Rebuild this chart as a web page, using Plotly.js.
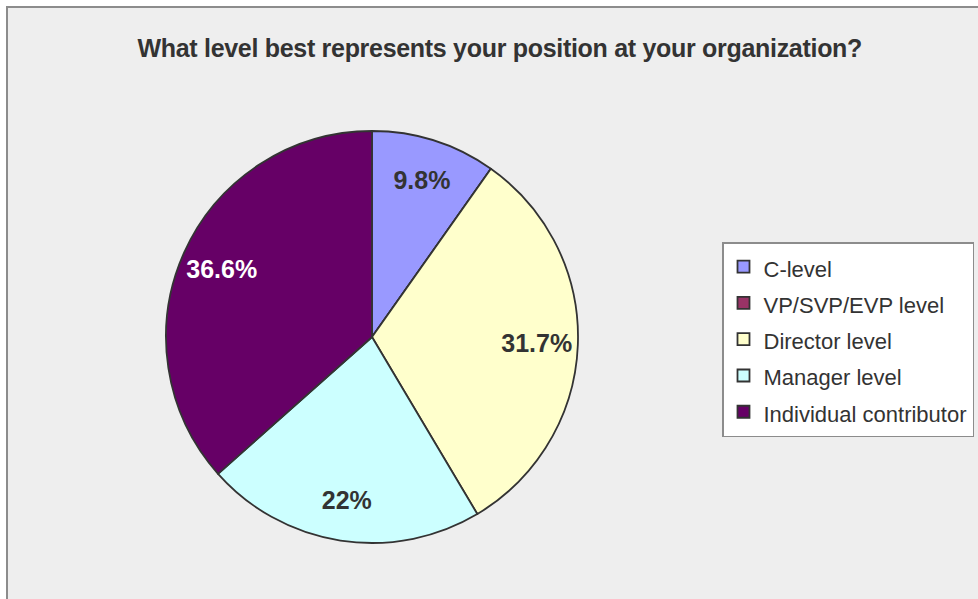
<!DOCTYPE html>
<html>
<head>
<meta charset="utf-8">
<script src="https://cdn.plot.ly/plotly-3.0.1.min.js"></script>
<style>html,body{margin:0;padding:0;background:#fff;}#chart{width:978px;height:599px;}
.gtitle{letter-spacing:-0.3px;}</style>
</head>
<body>
<div id="chart"></div>
<script>
const categories = ["C-level", "VP/SVP/EVP level", "Director level", "Manager level", "Individual contributor"];
const shares = [9.8, 0, 31.7, 22, 36.6];
const sliceColors = ["#9999ff", "#993366", "#ffffcc", "#ccffff", "#660066"];
const labelColors = ["#333333", "#333333", "#333333", "#333333", "#ffffff"];
const chartTitle = "What level best represents your position at your organization?";

const W = 978, H = 599;
const FONT = 'Liberation Sans, Arial, sans-serif';
const legendLabels = categories.map(c => '<span style="font-size:22px">' + c + '</span>');
const sliceText = shares.map(v => v > 0 ? v + '%' : '');
const pieDomain = {x: [166 / W, 578 / W], y: [1 - 543 / H, 1 - 131 / H]};

// visible slices
const slices = {
  type: 'pie',
  labels: legendLabels,
  values: shares,
  textinfo: 'none',
  sort: false,
  direction: 'clockwise',
  rotation: 0,
  marker: {colors: sliceColors, line: {color: '#333333', width: 1.8}},
  domain: pieDomain,
  hoverinfo: 'label+percent'
};

// transparent ring carrying the percentage labels in the outer part of each slice
const labelRing = {
  type: 'pie',
  labels: legendLabels,
  values: shares,
  text: sliceText,
  textinfo: 'text',
  textposition: 'inside',
  insidetextorientation: 'horizontal',
  hole: 0.6,
  sort: false,
  direction: 'clockwise',
  rotation: 0,
  showlegend: false,
  marker: {colors: shares.map(() => 'rgba(0,0,0,0)'), line: {width: 0}},
  textfont: {family: FONT, size: 25, weight: 'bold', color: labelColors},
  domain: pieDomain,
  hoverinfo: 'skip'
};

const layout = {
  width: W, height: H,
  margin: {l: 0, r: 0, t: 0, b: 0},
  paper_bgcolor: '#ffffff',
  font: {family: FONT, color: '#333333'},
  title: {
    text: chartTitle,
    font: {family: FONT, size: 25, weight: 'bold', color: '#333333'},
    x: 0.511, xanchor: 'center', y: 1 - 48 / H, yanchor: 'middle'
  },
  showlegend: true,
  legend: {
    x: 722 / W, xanchor: 'left', y: 1 - 242 / H, yanchor: 'top',
    bgcolor: '#ffffff', bordercolor: '#8c8c8c', borderwidth: 1.5,
    font: {family: FONT, size: 25.6, color: '#333333'}
  },
  shapes: [{
    type: 'rect', xref: 'paper', yref: 'paper', layer: 'below',
    x0: 7 / W, x1: 1.05, y0: -0.05, y1: 1 - 7 / H,
    fillcolor: '#eeeeee', line: {color: '#8c8c8c', width: 2}
  }]
};

Plotly.newPlot('chart', [slices, labelRing], layout, {displayModeBar: false, staticPlot: true});
</script>
</body>
</html>
